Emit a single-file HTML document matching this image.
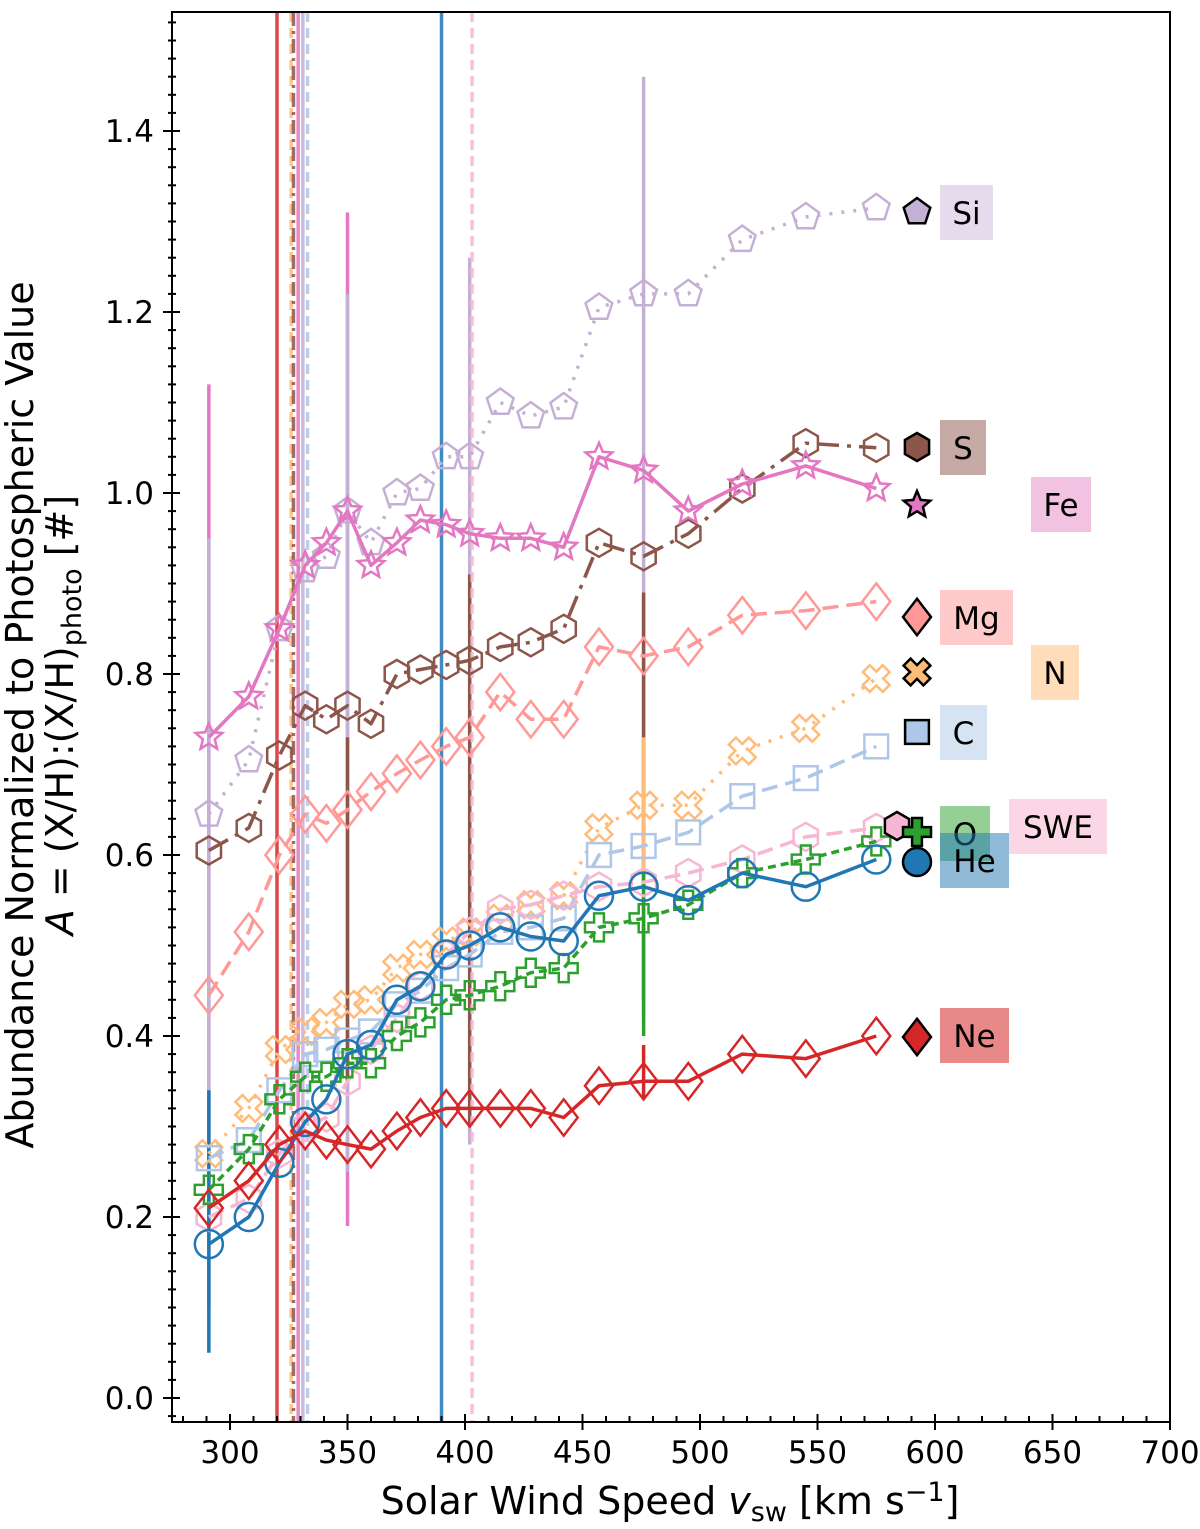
<!DOCTYPE html>
<html><head><meta charset="utf-8"><style>
body{margin:0;background:#fff}
svg text{font-family:"DejaVu Sans","Liberation Sans",sans-serif;fill:#000}
</style></head><body>
<svg id="chart" width="1200" height="1524" xmlns="http://www.w3.org/2000/svg">
<g id="bars"></g>
<g id="vlines"></g>
<g id="series"></g>
<g id="legend"></g>
<g id="axes"></g>
</svg>
<script>
const speeds=[291,308,321,332,341,350,360,371,381,392,402,415,428,442,457,476,495,518,545,575];
const neVals=[0.21,0.24,0.28,0.295,0.285,0.28,0.275,0.295,0.31,0.32,0.32,0.32,0.32,0.31,0.345,0.35,0.35,0.38,0.375,0.40];
const oVals=[0.23,0.275,0.33,0.355,0.355,0.37,0.37,0.40,0.415,0.44,0.445,0.455,0.47,0.475,0.52,0.53,0.545,0.58,0.595,0.615];
const heVals=[0.17,0.20,0.26,0.305,0.33,0.38,0.39,0.44,0.455,0.49,0.50,0.52,0.51,0.505,0.555,0.565,0.55,0.58,0.565,0.595];
const sweVals=[0.20,0.22,0.27,0.30,0.31,0.35,0.385,0.42,0.455,0.49,0.515,0.54,0.545,0.555,0.565,0.57,0.58,0.595,0.62,0.63];
const nVals=[0.27,0.32,0.385,0.405,0.415,0.435,0.44,0.475,0.49,0.505,0.515,0.53,0.545,0.555,0.63,0.655,0.655,0.715,0.74,0.795];
const cVals=[0.265,0.285,0.34,0.38,0.385,0.395,0.405,0.435,0.45,0.475,0.49,0.515,0.52,0.53,0.60,0.61,0.625,0.665,0.685,0.72];
const mgVals=[0.445,0.515,0.60,0.645,0.635,0.65,0.67,0.69,0.705,0.72,0.73,0.78,0.75,0.75,0.83,0.82,0.83,0.865,0.87,0.88];
const sVals=[0.605,0.63,0.71,0.765,0.75,0.765,0.745,0.80,0.805,0.81,0.815,0.83,0.835,0.85,0.945,0.93,0.955,1.005,1.055,1.05];
const feVals=[0.73,0.775,0.85,0.92,0.945,0.98,0.92,0.945,0.97,0.965,0.955,0.95,0.95,0.94,1.04,1.025,0.98,1.01,1.03,1.005];
const siVals=[0.645,0.705,0.85,0.915,0.93,0.98,0.945,1.0,1.005,1.04,1.04,1.10,1.085,1.095,1.205,1.22,1.22,1.28,1.305,1.315];
const xTicks=[300,350,400,450,500,550,600,650,700];
const yTicks=[0.0,0.2,0.4,0.6,0.8,1.0,1.2,1.4];
const medianSpeeds=[320,326,327,329,331,333,390,403];

const L=172,R=1170,T=12,B=1422;
const X=v=>230+(v-300)*2.35;
const Y=a=>1398-a*905;
const NS='http://www.w3.org/2000/svg';
function mk(tag,attrs,parent){const e=document.createElementNS(NS,tag);for(const k in attrs)e.setAttribute(k,attrs[k]);parent.appendChild(e);return e;}

const series=[
 {name:'si',vals:siVals,col:'#c5b0d5',dash:'3 9',m:'pent'},
 {name:'s',vals:sVals,col:'#8c564b',dash:'22 8 4 8',m:'hex'},
 {name:'fe',vals:feVals,col:'#e377c2',dash:'',m:'star'},
 {name:'mg',vals:mgVals,col:'#ff9896',dash:'16 8',m:'diam'},
 {name:'n',vals:nVals,col:'#ffbb78',dash:'3 9',m:'x'},
 {name:'c',vals:cVals,col:'#aec7e8',dash:'16 8',m:'sq'},
 {name:'swe',vals:sweVals,col:'#f7b6d2',dash:'16 8',m:'hex'},
 {name:'o',vals:oVals,col:'#2ca02c',dash:'8 5',m:'plus'},
 {name:'he',vals:heVals,col:'#1f77b4',dash:'',m:'circ'},
 {name:'ne',vals:neVals,col:'#d62728',dash:'',m:'diam'}
];
function shape(type,cx,cy,r,attrs,parent){
 let pts=[];
 if(type==='circ')return mk('circle',Object.assign({cx,cy,r},attrs),parent);
 if(type==='sq'){pts=[[-1,-1],[1,-1],[1,1],[-1,1]].map(p=>[p[0]*r*0.85,p[1]*r*0.85]);}
 else if(type==='diam'){pts=[[0,-1.3],[1,0],[0,1.3],[-1,0]].map(p=>[p[0]*r,p[1]*r]);}
 else if(type==='pent'){for(let i=0;i<5;i++){const a=-Math.PI/2+i*2*Math.PI/5;pts.push([r*Math.cos(a),r*Math.sin(a)]);}}
 else if(type==='hex'){for(let i=0;i<6;i++){const a=-Math.PI/2+i*Math.PI/3;pts.push([r*Math.cos(a),r*Math.sin(a)]);}}
 else if(type==='star'){for(let i=0;i<10;i++){const a=-Math.PI/2+i*Math.PI/5;const rr=i%2?r*0.45:r;pts.push([rr*Math.cos(a),rr*Math.sin(a)]);}}
 else if(type==='plus'){const a=r*0.35;pts=[[-a,-r],[a,-r],[a,-a],[r,-a],[r,a],[a,a],[a,r],[-a,r],[-a,a],[-r,a],[-r,-a],[-a,-a]];}
 else if(type==='x'){const a=r*0.35;pts=[[-a,-r],[a,-r],[a,-a],[r,-a],[r,a],[a,a],[a,r],[-a,r],[-a,a],[-r,a],[-r,-a],[-a,-a]].map(p=>{const c=Math.SQRT1_2;return [(p[0]-p[1])*c,(p[0]+p[1])*c];});}
 return mk('polygon',Object.assign({points:pts.map(p=>(cx+p[0]).toFixed(1)+','+(cy+p[1]).toFixed(1)).join(' ')},attrs),parent);
}

const vg=document.getElementById('vlines');
const vcols=['#d62728','#ffbb78','#8c564b','#e377c2','#c5b0d5','#aec7e8','#1f77b4','#f7b6d2'];
const vdash=['','10 6','14 5 3 5','','','10 6','','10 6'];
medianSpeeds.forEach((v,i)=>{
 const l=mk('line',{x1:X(v),x2:X(v),y1:T,y2:B,stroke:vcols[i],'stroke-width':3.5,'stroke-dasharray':vdash[i],opacity:0.85},vg);
 
 
});

const bg=document.getElementById('bars');
const errs=[[291,0.1,1.12,'#e377c2'],[291,0.1,0.95,'#c5b0d5'],[291,0.05,0.34,'#1f77b4'],[350,0.19,1.31,'#e377c2'],[350,0.25,1.22,'#c5b0d5'],[350,0.35,0.73,'#8c564b'],[402,0.28,1.26,'#c5b0d5'],[402,0.3,0.91,'#8c564b'],[476,0.42,1.46,'#c5b0d5'],[476,0.44,0.89,'#8c564b'],[476,0.44,0.73,'#ffbb78'],[476,0.4,0.58,'#2ca02c'],[476,0.33,0.39,'#d62728']];
errs.forEach((e,i)=>{
 const l=mk('line',{x1:X(e[0]),x2:X(e[0]),y1:Y(e[1]),y2:Y(e[2]),stroke:e[3],'stroke-width':3.5},bg);
 
 
});

const sg=document.getElementById('series');
series.forEach(s=>{
 const g=mk('g',{},sg);
 
 
 const d=s.vals.map((a,i)=>(i?'L':'M')+X(speeds[i]).toFixed(1)+','+Y(a).toFixed(1)).join(' ');
 const p=mk('path',{d,fill:'none',stroke:s.col,'stroke-width':3.5,'stroke-dasharray':s.dash,'stroke-linejoin':'round'},g);
 
 
 s.vals.forEach((a,i)=>{
  const m=shape(s.m,X(speeds[i]),Y(a),14,{fill:'none',stroke:s.col,'stroke-width':2.5},g);
  
  
 });
});

const lg=document.getElementById('legend');
const legs=[
 ['Si','pent','#c5b0d5',917,212,940,185,53,'rgba(197,176,213,0.45)'],
 ['S','hex','#8c564b',917,447,940,420,46,'rgba(140,86,75,0.5)'],
 ['Fe','star','#e377c2',917,505,1031,477,60,'rgba(227,119,194,0.45)'],
 ['Mg','diam','#ff9896',917,617,940,590,73,'rgba(255,152,150,0.5)'],
 ['N','x','#ffbb78',917,672,1031,645,48,'rgba(255,187,120,0.5)'],
 ['C','sq','#aec7e8',917,732,940,705,47,'rgba(174,199,232,0.5)'],
 ['SWE','hex','#f7b6d2',897,826,1009,799,98,'rgba(247,182,210,0.55)'],
 ['O','plus','#2ca02c',917,832,940,806,50,'rgba(44,160,44,0.5)'],
 ['He','circ','#1f77b4',917,862,940,833,69,'rgba(31,119,180,0.5)'],
 ['Ne','diam','#d62728',917,1037,940,1008,69,'rgba(214,39,40,0.55)']
];
legs.forEach(l=>{
 const r=mk('rect',{x:l[5],y:l[6],width:l[7],height:55,fill:l[8]},lg);
 
 
 const m=shape(l[1],l[3],l[4],14,{fill:l[2],stroke:'#000','stroke-width':2.5},lg);
 
 
 const t=mk('text',{x:l[5]+l[7]/2,y:l[6]+39,'font-size':31,'text-anchor':'middle'},lg);
 t.textContent=l[0];
 
 
});

const ag=document.getElementById('axes');
const fr=mk('rect',{x:L,y:T,width:R-L,height:B-T,fill:'none',stroke:'#000','stroke-width':2},ag);


for(let v=280;v<=700;v+=10){
 const major=v%50===0;
 mk('line',{x1:X(v),x2:X(v),y1:major?B+8:B,y2:major?B-8:B-6,stroke:'#000','stroke-width':2},ag);
}
xTicks.forEach(v=>{
 const t=mk('text',{x:X(v),y:1463,'font-size':31,'text-anchor':'middle'},ag);
 t.textContent=v;
 
 
});
for(let i=-1;i<=76;i++){
 const a=i*0.02;const y=Y(a);if(y<T||y>B)continue;
 const major=i%10===0;
 mk('line',{x1:major?L-9:L-4,x2:major?L+8:L+4,y1:y,y2:y,stroke:'#000','stroke-width':2},ag);
}
yTicks.forEach(a=>{
 const t=mk('text',{x:154,y:Y(a)+11,'font-size':31,'text-anchor':'end'},ag);
 t.textContent=a.toFixed(1);
 
 
});
</script>
<svg style="position:absolute;left:0;top:0" width="1200" height="1524" xmlns="http://www.w3.org/2000/svg">
<text x="670" y="1514" font-size="38" text-anchor="middle" style="font-family:'DejaVu Sans','Liberation Sans',sans-serif">Solar Wind Speed <tspan font-style="italic">v</tspan><tspan font-size="27" dy="7">sw</tspan><tspan dy="-7"> [km s</tspan><tspan font-size="27" dy="-13">−1</tspan><tspan dy="13">]</tspan></text>
<text transform="translate(33,715) rotate(-90)" font-size="38" text-anchor="middle" style="font-family:'DejaVu Sans','Liberation Sans',sans-serif">Abundance Normalized to Photospheric Value</text>
<text transform="translate(73,715) rotate(-90)" font-size="38" text-anchor="middle" style="font-family:'DejaVu Sans','Liberation Sans',sans-serif"><tspan font-style="italic">A</tspan> = (X/H):(X/H)<tspan font-size="27" dy="8">photo</tspan><tspan dy="-8"> [#]</tspan></text>
</svg>
</body></html>
